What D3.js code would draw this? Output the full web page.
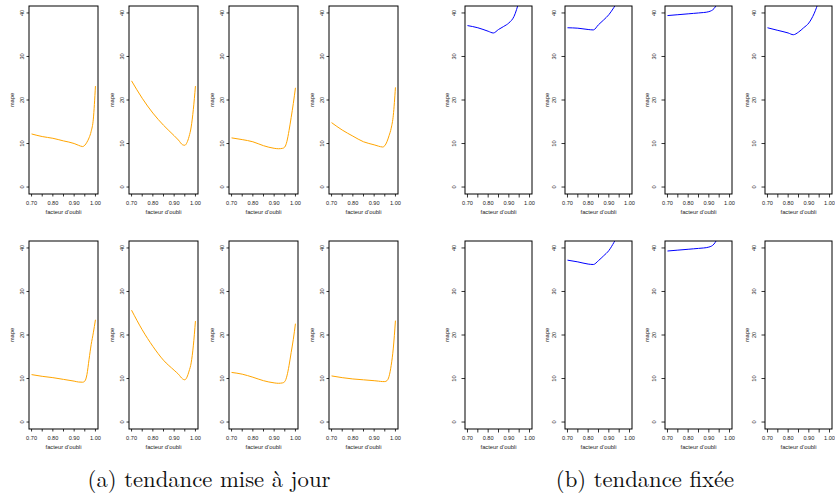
<!DOCTYPE html>
<html>
<head>
<meta charset="utf-8">
<script src="https://cdn.jsdelivr.net/npm/d3@7"></script>
<style>
  body { margin: 0; background: #fff; }
</style>
</head>
<body>
<div id="my_dataviz"></div>
<script>
// data : facteur d'oubli (x) and mape (y) for each panel
var forget = [0.70, 0.75, 0.80, 0.85, 0.90, 0.92, 0.94, 0.95, 0.96, 0.97, 0.98, 0.99, 1.00];
var mapeA1 = [12.2, 11.6, 11.2, 10.6, 10.0, 9.6, 9.3, 9.6, 10.3, 11.3, 12.8, 15.6, 23.2];
var mapeA2 = [24.4, 20.4, 17.0, 14.2, 11.8, 10.8, 9.7, 9.6, 10.2, 11.6, 13.8, 17.8, 23.2];
var mapeA3 = [11.3, 10.9, 10.4, 9.5, 8.9, 8.8, 8.9, 9.2, 10.5, 13.0, 16.0, 19.2, 22.8];
var mapeA4 = [14.8, 13.1, 11.7, 10.4, 9.7, 9.4, 9.2, 9.5, 10.4, 11.8, 13.5, 16.5, 22.9];
var mapeA5 = [10.9, 10.5, 10.2, 9.8, 9.4, 9.2, 9.15, 9.4, 10.9, 14.4, 17.8, 20.5, 23.5];
var mapeA6 = [25.7, 21.2, 17.4, 14.2, 11.9, 11.0, 9.9, 9.7, 10.3, 11.7, 13.6, 17.5, 23.2];
var mapeA7 = [11.4, 11.0, 10.3, 9.5, 9.0, 8.9, 9.0, 9.3, 10.6, 13.0, 16.0, 19.0, 22.6];
var mapeA8 = [10.6, 10.2, 9.9, 9.7, 9.5, 9.4, 9.3, 9.3, 9.5, 10.5, 13.0, 17.0, 23.3];

var forgetB = [0.70, 0.75, 0.80, 0.825, 0.85, 0.875, 0.90, 0.925, 0.95];
var mapeB1 = [37.1, 36.6, 35.8, 35.4, 36.2, 36.9, 37.7, 39.2, 42.8];
var mapeB2 = [36.6, 36.5, 36.2, 36.1, 37.3, 38.4, 39.6, 41.3, 43.2];
var mapeB3 = [39.4, 39.6, 39.8, 39.9, 40.0, 40.1, 40.3, 41.0, 43.0];
var mapeB4 = [36.6, 36.0, 35.4, 35.0, 35.6, 36.6, 37.7, 39.8, 43.0];
var mapeB6 = [37.2, 36.8, 36.3, 36.2, 37.1, 38.2, 39.4, 41.3, 43.5];
var mapeB7 = [39.3, 39.5, 39.7, 39.8, 39.9, 40.0, 40.2, 40.9, 43.0];

var yTicks = [0, 10, 20, 30, 40];
var xTicks = [0.70, 0.75, 0.80, 0.85, 0.90, 0.95, 1.00];
var xLabels = [0.70, 0.80, 0.90, 1.00];
var captions = ["(a) tendance mise \u00e0 jour", "(b) tendance fix\u00e9e"];

// panels: [x series, y series] or null when empty
var panelsA = [[forget, mapeA1], [forget, mapeA2], [forget, mapeA3], [forget, mapeA4],
               [forget, mapeA5], [forget, mapeA6], [forget, mapeA7], [forget, mapeA8]];
var panelsB = [[forgetB, mapeB1], [forgetB, mapeB2], [forgetB, mapeB3], [forgetB, mapeB4],
               null, [forgetB, mapeB6], [forgetB, mapeB7], null];

var svg = d3.select("#my_dataviz")
  .append("svg")
    .attr("width", 835)
    .attr("height", 500);

var rowTops = [6, 241],
    boxH = 188;

var groups = [
  {panels: panelsA, lefts: [29, 129, 229, 329], w: 69, color: "#FFA500", tick: 2.5, lab: 5.4, ylab: 15, cap: 209},
  {panels: panelsB, lefts: [465, 565, 665, 765], w: 67, color: "#0000FF", tick: 3.5, lab: 9, ylab: 16, cap: 645}
];

var font = "'Liberation Sans', Arial, Helvetica, sans-serif";
var clipId = 0;

groups.forEach(function(g, gi) {
  g.panels.forEach(function(p, i) {
    var left = g.lefts[i % 4],
        top = rowTops[Math.floor(i / 4)];

    var x = d3.scaleLinear().domain([0.688, 1.012]).range([left, left + g.w]);
    var y = d3.scaleLinear().domain([-1.6, 41.6]).range([top + boxH, top]);

    var panel = svg.append("g");

    // clip so curves stop at the box
    clipId++;
    svg.append("clipPath").attr("id", "clip" + clipId)
      .append("rect")
        .attr("x", left).attr("y", top)
        .attr("width", g.w).attr("height", boxH);

    if (p) {
      var pts = p[0].map(function(d, k) { return [d, p[1][k]]; });
      panel.append("path")
        .datum(pts)
        .attr("clip-path", "url(#clip" + clipId + ")")
        .attr("fill", "none")
        .attr("stroke", g.color)
        .attr("stroke-width", 1)
        .attr("d", d3.line()
          .curve(d3.curveMonotoneX)
          .x(function(d) { return x(d[0]); })
          .y(function(d) { return y(d[1]); }));
    }

    // box
    panel.append("rect")
      .attr("x", left).attr("y", top)
      .attr("width", g.w).attr("height", boxH)
      .attr("fill", "none")
      .attr("stroke", "#000")
      .attr("stroke-width", 1);

    // y ticks
    panel.selectAll(".yt")
      .data(yTicks)
      .enter().append("line")
        .attr("x1", left).attr("x2", left - g.tick)
        .attr("y1", function(d) { return y(d); })
        .attr("y2", function(d) { return y(d); })
        .attr("stroke", "#000").attr("stroke-width", 0.8);

    panel.selectAll(".yl")
      .data(yTicks)
      .enter().append("text")
        .attr("transform", function(d) { return "translate(" + (left - g.lab) + "," + y(d) + ") rotate(-90)"; })
        .attr("text-anchor", "middle")
        .style("font-family", font)
        .style("font-size", "5.6px")
        .attr("fill", "#222")
        .text(function(d) { return d; });

    // x ticks
    panel.selectAll(".xt")
      .data(xTicks)
      .enter().append("line")
        .attr("y1", top + boxH).attr("y2", top + boxH + g.tick)
        .attr("x1", function(d) { return x(d); })
        .attr("x2", function(d) { return x(d); })
        .attr("stroke", "#000").attr("stroke-width", 0.8);

    panel.selectAll(".xl")
      .data(xLabels)
      .enter().append("text")
        .attr("x", function(d) { return x(d); })
        .attr("y", top + boxH + 11)
        .attr("text-anchor", "middle")
        .style("font-family", font)
        .style("font-size", "5.6px")
        .attr("fill", "#222")
        .text(function(d) { return d.toFixed(2); });

    // axis titles
    panel.append("text")
      .attr("x", left + g.w / 2)
      .attr("y", top + boxH + 20)
      .attr("text-anchor", "middle")
      .style("font-family", font)
      .style("font-size", "5.8px")
      .attr("fill", "#222")
      .text("facteur d'oubli");

    panel.append("text")
      .attr("transform", "translate(" + (left - g.ylab) + "," + (top + boxH / 2) + ") rotate(-90)")
      .attr("text-anchor", "middle")
      .style("font-family", font)
      .style("font-size", "5.8px")
      .attr("fill", "#222")
      .text("mape");
  });

  // sub-figure caption
  svg.append("text")
    .attr("x", g.cap)
    .attr("y", 487)
    .attr("text-anchor", "middle")
    .style("font-family", "'Latin Modern Roman', 'Liberation Serif', serif")
    .style("font-size", "22.7px")
    .attr("fill", "#111")
    .text(captions[gi]);
});
</script>
</body>
</html>
